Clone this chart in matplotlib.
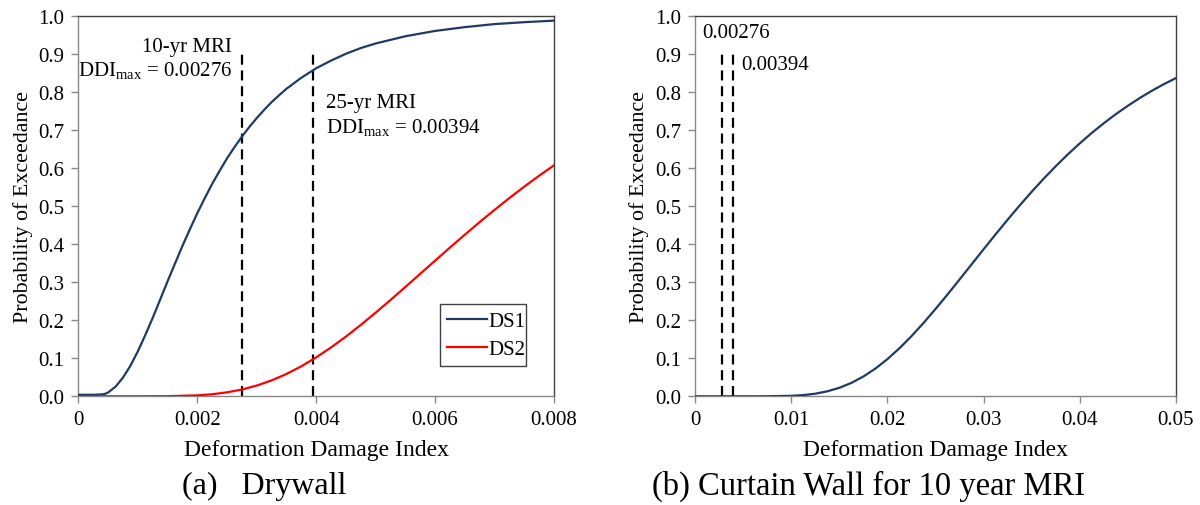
import matplotlib
matplotlib.use('Agg')
import matplotlib.pyplot as plt

plt.rcParams['font.family'] = ['Liberation Serif', 'DejaVu Serif']
plt.rcParams['mathtext.fontset'] = 'custom'
plt.rcParams['mathtext.rm'] = 'Liberation Serif'
plt.rcParams['mathtext.it'] = 'Liberation Serif:italic'

# ---- data ----
ddi_ds1 = [0, 0.00025, 0.0004, 0.00045, 0.0005, 0.000625, 0.00075, 0.000875,
           0.001, 0.001125, 0.00125, 0.001375, 0.0015, 0.001625, 0.00175,
           0.001875, 0.002, 0.002125, 0.00225, 0.002375, 0.0025, 0.002625,
           0.00275, 0.002875, 0.003, 0.003125, 0.00325, 0.003375, 0.0035,
           0.00375, 0.004, 0.00425, 0.0045, 0.00475, 0.005, 0.0055, 0.006,
           0.0065, 0.007, 0.0075, 0.008]
p_ds1 = [0.004, 0.004, 0.005, 0.0065, 0.010, 0.0253, 0.049, 0.0802,
         0.118, 0.1607, 0.206, 0.2538, 0.302, 0.3487, 0.395,
         0.4387, 0.481, 0.5203, 0.558, 0.5922, 0.625, 0.6545,
         0.682, 0.7076, 0.731, 0.7527, 0.773, 0.7908, 0.808,
         0.837, 0.862, 0.882, 0.900, 0.915, 0.927, 0.946, 0.960,
         0.970, 0.978, 0.983, 0.987]

ddi_ds2 = [0, 0.001, 0.0015, 0.002, 0.00225, 0.0025, 0.00275, 0.003, 0.00325,
           0.0035, 0.00375, 0.004, 0.00425, 0.0045, 0.00475, 0.005, 0.00525,
           0.0055, 0.00575, 0.006, 0.00625, 0.0065, 0.00675, 0.007, 0.00725,
           0.0075, 0.00775, 0.008]
p_ds2 = [0.0, 0.0, 0.0003, 0.0025, 0.0054, 0.0104, 0.0178, 0.0282, 0.0418,
         0.0587, 0.0789, 0.1022, 0.1284, 0.157, 0.1875, 0.2198, 0.2531,
         0.2873, 0.3219, 0.3565, 0.3909, 0.4247, 0.4578, 0.4899, 0.521,
         0.551, 0.5796, 0.607]

ddi_cw = [0, 0.005, 0.0075, 0.01, 0.01125, 0.0125, 0.01375, 0.015, 0.01625,
          0.0175, 0.01875, 0.02, 0.02125, 0.0225, 0.02375, 0.025, 0.02625,
          0.0275, 0.02875, 0.03, 0.03125, 0.0325, 0.03375, 0.035, 0.03625,
          0.0375, 0.03875, 0.04, 0.04125, 0.0425, 0.04375, 0.045, 0.04625,
          0.0475, 0.04875, 0.05]
p_cw = [0.0, 0.0, 0.0001, 0.0013, 0.0032, 0.0069, 0.0131, 0.0223, 0.0352,
        0.052, 0.0728, 0.0977, 0.1263, 0.158, 0.1926, 0.2294, 0.2676,
        0.307, 0.3467, 0.3864, 0.4257, 0.4641, 0.5015, 0.5375, 0.5719,
        0.6046, 0.6356, 0.6646, 0.6921, 0.7176, 0.7414, 0.7634, 0.784,
        0.8028, 0.8203, 0.8362]

ddi_10yr = 0.00276
ddi_25yr = 0.00394
line_top = 0.9

left_xticks = [0, 0.002, 0.004, 0.006, 0.008]
left_xticklabels = ['0', '0.002', '0.004', '0.006', '0.008']
right_xticks = [0, 0.01, 0.02, 0.03, 0.04, 0.05]
right_xticklabels = ['0', '0.01', '0.02', '0.03', '0.04', '0.05']
yticks = [i / 10 for i in range(11)]
yticklabels = ['%.1f' % v for v in yticks]

NAVY = '#1F3B63'
RED = '#FF0000'
FS = 15

fig = plt.figure(figsize=(12, 5.06), dpi=100)
ax1 = fig.add_axes([0.0653, 0.2148, 0.3964, 0.7522])
ax2 = fig.add_axes([0.5792, 0.2148, 0.4008, 0.7522])


def style(ax, xmax, xt, xtl):
    ax.set_xlim(0, xmax)
    ax.set_ylim(0, 1.0)
    ax.set_xticks(xt)
    ax.set_xticklabels(xtl)
    ax.set_yticks(yticks)
    ax.set_yticklabels(yticklabels)
    ax.tick_params(direction='out', length=5, width=1, color='#888888',
                   labelsize=FS, pad=5)
    for s in ['left', 'bottom']:
        ax.spines[s].set_color('#888888')
        ax.spines[s].set_linewidth(1)
    for s in ['top', 'right']:
        ax.spines[s].set_color('#404040')
        ax.spines[s].set_linewidth(1)
    ax.set_xlabel('Deformation Damage Index', fontsize=17, labelpad=7)
    ax.set_ylabel('Probability of Exceedance', fontsize=15.8, labelpad=4)


style(ax1, 0.008, left_xticks, left_xticklabels)
style(ax2, 0.05, right_xticks, right_xticklabels)

dash = dict(color='black', lw=1.6, dashes=(4.5, 2.6))

# Left panel
ax1.plot(ddi_ds1, p_ds1, color=NAVY, lw=1.6, label='DS1', zorder=3)
ax1.plot(ddi_ds2, p_ds2, color=RED, lw=1.6, label='DS2', zorder=3)
ax1.plot([ddi_10yr, ddi_10yr], [0, line_top], **dash, zorder=2)
ax1.plot([ddi_25yr, ddi_25yr], [0, line_top], **dash, zorder=2)

ax1.text(0.00259, 0.919, '10-yr MRI', ha='right', va='center', fontsize=FS)
ax1.text(0.00259, 0.858, r'DDI$_{\mathrm{max}}$ = 0.00276', ha='right', va='center', fontsize=FS)
ax1.text(0.00416, 0.771, '25-yr MRI', ha='left', va='center', fontsize=FS)
ax1.text(0.00416, 0.710, r'DDI$_{\mathrm{max}}$ = 0.00394', ha='left', va='center', fontsize=FS)

leg = ax1.legend(loc='lower left', bbox_to_anchor=(0.76, 0.079, 0.181, 0.155),
                 mode='expand', fontsize=FS, fancybox=False, framealpha=1,
                 edgecolor='#404040', handlelength=1.9, handletextpad=0.1,
                 borderpad=0.35, labelspacing=0.4, borderaxespad=0)
leg.get_frame().set_linewidth(1)

# Right panel
ax2.plot(ddi_cw, p_cw, color=NAVY, lw=1.6, zorder=3)
ax2.plot([ddi_10yr, ddi_10yr], [0, line_top], **dash, zorder=2)
ax2.plot([ddi_25yr, ddi_25yr], [0, line_top], **dash, zorder=2)
ax2.text(0.0007, 0.955, '0.00276', ha='left', va='center', fontsize=FS)
ax2.text(0.0048, 0.871, '0.00394', ha='left', va='center', fontsize=FS)

# Captions
fig.text(264 / 1200, 1 - 486 / 506, '(a)   Drywall', ha='center', va='center', fontsize=23)
fig.text(869 / 1200, 1 - 486 / 506, '(b) Curtain Wall for 10 year MRI', ha='center', va='center', fontsize=23.5)

fig.savefig('out.png', dpi=100)
